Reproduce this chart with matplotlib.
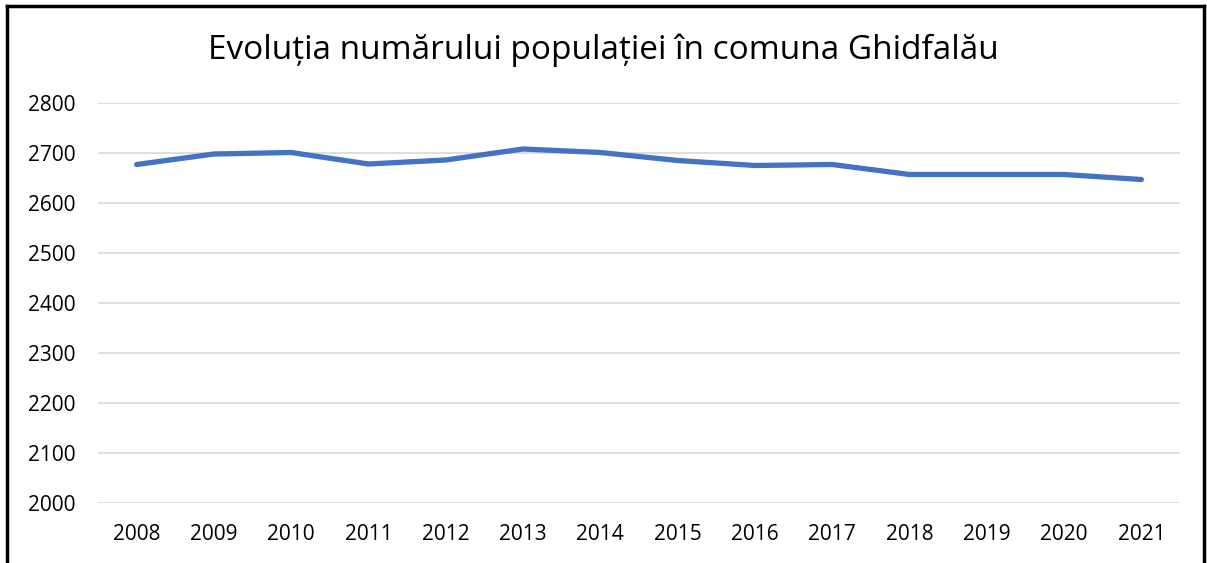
import matplotlib
matplotlib.use("Agg")
import matplotlib.pyplot as plt
from matplotlib.lines import Line2D

years = ["2008", "2009", "2010", "2011", "2012", "2013", "2014",
         "2015", "2016", "2017", "2018", "2019", "2020", "2021"]
population = [2677, 2698, 2701, 2678, 2686, 2708, 2701,
              2685, 2675, 2677, 2657, 2657, 2657, 2647]
yticks = [2000, 2100, 2200, 2300, 2400, 2500, 2600, 2700, 2800]
title = "Evoluția numărului populației în comuna Ghidfalău"

plt.rcParams['font.family'] = ['Open Sans', 'DejaVu Sans']

W, H = 1207, 563
fig = plt.figure(figsize=(W / 100, H / 100), dpi=100)
ax = fig.add_axes([98 / W, 1 - 503 / H, (1180 - 98) / W, (503 - 103) / H])

x = list(range(len(years)))
ax.plot(x, population, color="#4472C4", linewidth=3.8, solid_capstyle="round",
        solid_joinstyle="round", zorder=3)

ax.set_xlim(-0.5, len(years) - 0.5)
ax.set_ylim(2000, 2800)
ax.set_yticks(yticks)
ax.set_yticklabels([str(v) for v in yticks])
ax.set_xticks(x)
ax.set_xticklabels(years)
ax.tick_params(axis="both", length=0, labelsize=15, colors="#000000")
ax.tick_params(axis="y", pad=16)
ax.tick_params(axis="x", pad=15)
ax.grid(axis="y", color="#D9D9D9", linewidth=1.2)
ax.set_axisbelow(True)
for s in ax.spines.values():
    s.set_visible(False)

fig.text(0.5, 1 - 50 / H, title, ha="center", va="center", fontsize=24, color="#000000")

# outer frame (left, top, right)
def px(xp, yp):
    return xp / W, 1 - yp / H

for (x0, y0), (x1, y1) in [((6.5, H + 5), (6.5, 5.5)),
                           ((6.5, 5.5), (1203.5, 5.5)),
                           ((1203.5, 5.5), (1203.5, H + 5))]:
    a, b = px(x0, y0)
    c, d = px(x1, y1)
    fig.add_artist(Line2D([a, c], [b, d], transform=fig.transFigure,
                          color="black", linewidth=2.5, solid_capstyle="projecting"))

fig.savefig("out.png", dpi=100)
